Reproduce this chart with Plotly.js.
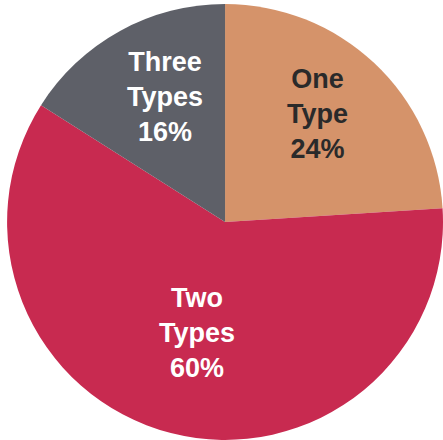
<!DOCTYPE html>
<html>
<head>
<meta charset="utf-8">
<script src="https://cdn.plot.ly/plotly-3.0.1.min.js"></script>
<style>html,body{margin:0;padding:0;background:#fff;}#chart{width:443px;height:440px;}</style>
</head>
<body>
<div id="chart"></div>
<script>
const labels = ["One Type", "Two Types", "Three Types"];
const labelLines = ["One<br>Type", "Two<br>Types", "Three<br>Types"];
const values = [24, 60, 16];
const colors = ["#D5936A", "#C82A50", "#5E6068"];
const textColors = ["#2a2a2a", "#ffffff", "#ffffff"];
const labelPos = [[317, 114], [197, 333], [165, 97]];

const W = 443, H = 440;
const annotations = labels.map((l, i) => ({
  xref: "paper", yref: "paper",
  x: labelPos[i][0] / W, y: 1 - labelPos[i][1] / H,
  xanchor: "center", yanchor: "middle",
  showarrow: false,
  text: labelLines[i] + "<br>" + values[i] + "%",
  font: {family: "Liberation Sans, Arial, sans-serif", size: 27, color: textColors[i], weight: "bold"},
  align: "center"
}));

Plotly.newPlot("chart", [{
  type: "pie",
  labels: labels,
  values: values,
  sort: false,
  direction: "clockwise",
  rotation: 0,
  marker: {colors: colors, line: {width: 0}},
  textinfo: "none",
  hoverinfo: "label+percent",
  domain: {x: [0.016, 1], y: [0, 0.991]}
}], {
  width: W, height: H,
  margin: {l: 0, r: 0, t: 0, b: 0},
  showlegend: false,
  paper_bgcolor: "#ffffff",
  annotations: annotations
}, {displayModeBar: false, staticPlot: true});
</script>
</body>
</html>
